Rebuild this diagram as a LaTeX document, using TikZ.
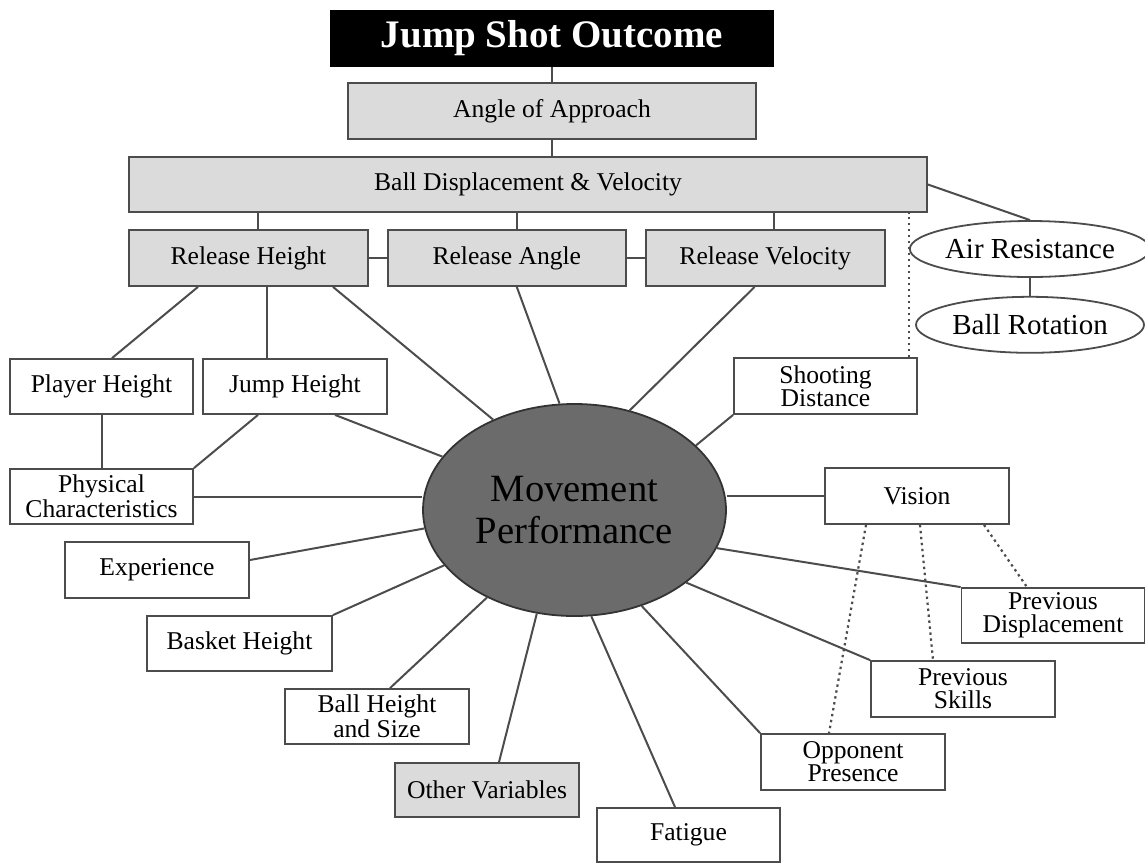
\documentclass[tikz,border=0pt]{standalone}
\usepackage{fontspec}
\setmainfont{Liberation Serif}
\usetikzlibrary{shapes,positioning}

\begin{document}
\begin{tikzpicture}[x=0.5pt, y=-0.5pt, node distance=9pt,
  every node/.style={font=\fontsize{12.8}{11.5}\selectfont, align=center, inner sep=1pt},
  box/.style={draw=black!70, line width=0.9pt, fill=white, minimum width=91.5pt, minimum height=27.5pt},
  greybox/.style={box, fill=black!14},
  oval/.style={ellipse, draw=black!70, line width=0.9pt, inner sep=0pt, minimum width=114pt, minimum height=28pt, font=\fontsize{14.5}{16}\selectfont},
  link/.style={draw=black!70, line width=1pt},
  dotlink/.style={link, line width=1.1pt, dash pattern=on 1.2pt off 1.8pt}]
\useasboundingbox (0,0) rectangle (1145,863);

\node (outcome) [fill=black, text=white, minimum width=222pt, minimum height=28.5pt, font=\fontsize{19.5}{22}\selectfont\bfseries] at (552,38.5) {Jump Shot Outcome};
\node (approach) [greybox, minimum width=204pt, minimum height=28pt] at (552,111) {Angle of Approach};
\node (balldisp) [greybox, minimum width=399pt] at (528,184.5) {Ball Displacement \& Velocity};
\node (relheight) [greybox, minimum width=119.5pt, minimum height=28pt] at (248.5,258) {Release Height};
\node (relangle) [greybox, right=of relheight, minimum width=119pt, minimum height=28pt] {Release Angle};
\node (relvel) [greybox, right=of relangle, minimum width=119.5pt, minimum height=28pt] {Release Velocity};
\node (airres) [oval] at (1030,249) {Air Resistance};
\node (rotation) [oval, below=of airres] {Ball Rotation};

\node (movement) [ellipse, draw=black!80, line width=0.9pt, fill=black!58, minimum width=151.5pt, minimum height=106pt, font=\fontsize{19.3}{21}\selectfont] at (574.5,510) {Movement\\Performance};

\node (playerh) [box] at (101.5,386.5) {Player Height};
\node (jumph) [box, minimum width=92pt] at (295,386.5) {Jump Height};
\node (shootdist) [box, minimum height=28pt] at (825.5,386) {Shooting\\Distance};
\node (physical) [box] at (101.5,496.5) {Physical\\Characteristics};
\node (vision) [box, minimum width=92pt, minimum height=28pt] at (917,496) {Vision};
\node (experience) [box, minimum width=92pt, minimum height=28pt] at (157,570) {Experience};
\node (baskheight) [box, minimum width=92.5pt] at (239.5,643.5) {Basket Height};
\node (prevdisp) [box] at (1053,615.5) {Previous\\Displacement};
\node (ballsize) [box, minimum width=92pt] at (377,716.5) {Ball Height\\and Size};
\node (prevskill) [box, minimum width=92pt, minimum height=28pt] at (963,689) {Previous\\Skills};
\node (opponent) [box, minimum width=92pt, minimum height=28pt] at (853,762) {Opponent\\Presence};
\node (othervar) [greybox, minimum width=92pt, minimum height=27pt] at (487,790) {Other Variables};
\node (fatigue) [box, minimum height=27pt] at (688.5,835) {Fatigue};

\draw[link] (outcome.south) -- (approach.north);
\draw[link] (approach.south) -- (approach.south |- balldisp.north);
\draw[link] ([xshift=4.75pt]relheight.north) -- ([xshift=4.75pt]relheight.north |- balldisp.south);
\draw[link] ([xshift=5pt]relangle.north) -- ([xshift=5pt]relangle.north |- balldisp.south);
\draw[link] ([xshift=4.25pt]relvel.north) -- ([xshift=4.25pt]relvel.north |- balldisp.south);
\draw[link] (relheight.east) -- (relangle.west);
\draw[link] (relangle.east) -- (relvel.west);
\draw[link] (balldisp.east) -- (airres.north);
\draw[link] (airres.south) -- (rotation.north);
\draw[dotlink] ([xshift=-4.5pt]shootdist.north east) -- ([xshift=-4.5pt]shootdist.north east |- balldisp.south);

\draw[link] ([xshift=-25.25pt]relheight.south) -- ([xshift=5.25pt]playerh.north);
\draw[link] ([xshift=9.25pt]relheight.south) -- ([xshift=-14pt]jumph.north);
\draw[link] ([xshift=42.25pt]relheight.south) -- (movement.132.5);
\draw[link] ([xshift=5pt]relangle.south) -- (movement.98.8);
\draw[link] ([xshift=-5.25pt]relvel.south) -- (movement.61.6);
\draw[link] (shootdist.south west) -- (movement.28.1);
\draw[link] (playerh.south) -- (physical.north);
\draw[link] ([xshift=-18.5pt]jumph.south) -- (physical.north east);
\draw[link] ([xshift=20pt]jumph.south) -- (movement.158.9);
\draw[link] (physical.east) -- (physical.east -| movement.west);
\draw[link] (vision.west) -- (vision.west -| movement.east);
\draw[link] ([yshift=5pt]experience.east) -- (movement.187.9);
\draw[link] (baskheight.north east) -- (movement.203.3);
\draw[link] ([xshift=6.5pt]ballsize.north) -- (movement.225.2);
\draw[link] ([xshift=6pt]othervar.north) -- (movement.250.8);
\draw[link] ([xshift=-6.75pt]fatigue.north) -- (movement.279.5);
\draw[link] (opponent.north west) -- (movement.305.8);
\draw[link] (prevskill.north west) -- (movement.327.6);
\draw[link] (prevdisp.north west) -- (movement.345.5);

\draw[dotlink] ([xshift=-25.5pt]vision.south) -- ([xshift=-12pt]opponent.north);
\draw[dotlink] ([xshift=1.5pt]vision.south) -- ([xshift=-15pt]prevskill.north);
\draw[dotlink] ([xshift=33.5pt]vision.south) -- ([xshift=-13pt]prevdisp.north);
\end{tikzpicture}
\end{document}
